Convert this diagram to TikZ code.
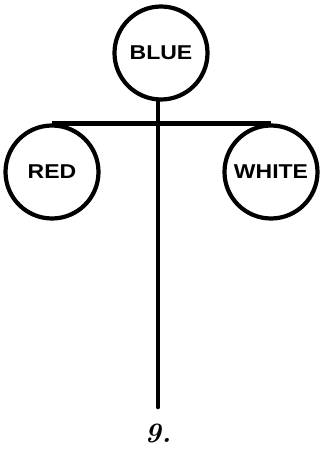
\documentclass[tikz,border=0pt]{standalone}
\usepackage{fontspec}
\newfontfamily\lettering[FakeStretch=1.15]{Liberation Sans}
\usepackage{tikz}
\usetikzlibrary{positioning}

\begin{document}
\begin{tikzpicture}[
  x=1pt,y=-1pt,
  every node/.style={font=\lettering\bfseries\fontsize{20}{20}\selectfont,align=center},
  colour/.style={draw,circle,minimum size=93pt,inner sep=0pt,line width=4.2pt},
  stem/.style={line width=4.6pt}
]
  \useasboundingbox (0,0) rectangle (320,455);

  \node[colour] (blue) at (161,53) {BLUE};
  \node[colour] (red) at (52,172) {RED};
  \node[colour] (white) at (271,172) {WHITE};
  \coordinate (foot) at (158,407);
  \node[font=\bfseries\itshape\fontsize{28}{28}\selectfont] (num) at (158,433) {9.};

  \draw[stem] (red.north) -- (white.north);
  \draw[stem,line cap=round] (blue.south -| foot) -- (foot);
\end{tikzpicture}
\end{document}
